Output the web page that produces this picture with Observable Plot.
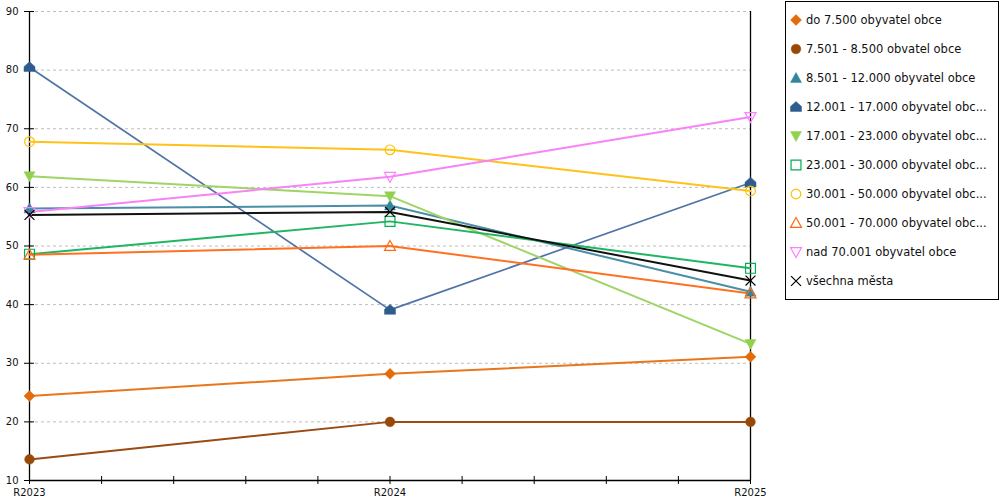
<!DOCTYPE html>
<html>
<head>
<meta charset="utf-8">
<script src="https://cdn.jsdelivr.net/npm/d3@7"></script>
<script src="https://cdn.jsdelivr.net/npm/@observablehq/plot@0.6"></script>
<style>
  body { margin: 0; background: #fff; font-family: "DejaVu Sans", sans-serif; }
  #wrap { position: relative; width: 1000px; height: 500px; overflow: hidden; }
  #legend { position: absolute; left: 785px; top: 1px; width: 214px; height: 299px;
            border: 1px solid #000; box-sizing: border-box; background: #fff; }
  .item { position: absolute; left: 0; height: 20px; display: flex; align-items: center;
          font-size: 11.5px; color: #111; white-space: nowrap; }
  .item svg { width: 20px; height: 20px; margin-left: 0px; margin-right: 0px; }
</style>
</head>
<body>
<div id="wrap"><div id="legend"></div></div>
<script>
// ---- data ----
const years = ["R2023", "R2024", "R2025"];
const seriesNames = [
  "do 7.500 obyvatel obce",
  "7.501 - 8.500 obvatel obce",
  "8.501 - 12.000 obyvatel obce",
  "12.001 - 17.000 obyvatel obc...",
  "17.001 - 23.000 obyvatel obc...",
  "23.001 - 30.000 obyvatel obc...",
  "30.001 - 50.000 obyvatel obc...",
  "50.001 - 70.000 obyvatel obc...",
  "nad 70.001 obyvatel obce",
  "všechna města"
];
const s1 = [24.4, 28.2, 31.1];
const s2 = [13.6, 20.0, 20.0];
const s3 = [56.4, 56.9, 42.2];
const s4 = [80.5, 39.1, 60.8];
const s5 = [61.9, 58.5, 33.3];
const s6 = [48.6, 54.2, 46.2];
const s7 = [67.8, 66.4, 59.4];
const s8 = [48.5, 50.0, 41.9];
const s9 = [55.8, 61.8, 72.0];
const s10 = [55.3, 55.8, 44.1];
const seriesValues = [s1, s2, s3, s4, s5, s6, s7, s8, s9, s10];
const yTicks = [10, 20, 30, 40, 50, 60, 70, 80, 90];

// ---- styles ----
const lineColors = ["#e8761c", "#9a4b12", "#4a8fa6", "#4f73a6", "#9fd466", "#1fb562", "#ffc21a", "#ff7020", "#f882f8", "#111111"];
const markColors = ["#e36c09", "#984807", "#31859c", "#2e5c8f", "#92d050", "#00b050", "#ffc000", "#ff6a10", "#ff80ff", "#000000"];
const filled = [true, true, true, true, true, false, false, false, false, false];

function mk(fn) { return { draw(ctx, size) { fn(ctx, Math.sqrt(size / Math.PI)); } }; }
const symDiamond = mk((c, r) => { c.moveTo(0, -r); c.lineTo(r, 0); c.lineTo(0, r); c.lineTo(-r, 0); c.closePath(); });
const symCircle = mk((c, r) => { const q = r * 0.88; c.moveTo(q, 0); c.arc(0, 0, q, 0, 2 * Math.PI); c.closePath(); });
const symTri = mk((c, r) => { c.moveTo(0, -r); c.lineTo(r, r * 0.8); c.lineTo(-r, r * 0.8); c.closePath(); });
const symTriDown = mk((c, r) => { c.moveTo(0, r); c.lineTo(r, -r * 0.8); c.lineTo(-r, -r * 0.8); c.closePath(); });
const symHouse = mk((c, r) => { c.moveTo(0, -r); c.lineTo(r, -0.1 * r); c.lineTo(r, 0.8 * r); c.lineTo(-r, 0.8 * r); c.lineTo(-r, -0.1 * r); c.closePath(); });
const symSquare = mk((c, r) => { const q = r * 0.9; c.moveTo(-q, -q); c.lineTo(q, -q); c.lineTo(q, q); c.lineTo(-q, q); c.closePath(); });
const symTimes = mk((c, r) => { const q = r * 0.9; c.moveTo(-q, -q); c.lineTo(q, q); c.moveTo(q, -q); c.lineTo(-q, q); });
const symbols = [symDiamond, symCircle, symTri, symHouse, symTriDown, symSquare, symCircle, symTri, symTriDown, symTimes];

const tables = seriesValues.map((vals, k) => vals.map((v, i) => ({ i, v, k })));

const marks = [
  Plot.ruleY(yTicks.slice(1), { stroke: "#bdbdbd", strokeDasharray: "3,3", strokeWidth: 1 }),
  Plot.ruleX([0, 2], { stroke: "#000", strokeWidth: 1.3 }),
  Plot.ruleY([10], { stroke: "#000", strokeWidth: 1.3 }),
  Plot.axisY({ ticks: yTicks, tickSize: 10, dx: 5, fill: "none", stroke: "#000", label: null, tickFormat: () => "" }),
  Plot.axisY({ ticks: yTicks, tickSize: 0, tickPadding: 11, fontSize: 10, fill: "#111", label: null }),
  Plot.axisX({ ticks: d3.range(0, 11).map(k => k / 5), tickSize: 8, dy: -4, fill: "none", stroke: "#000", label: null, tickFormat: () => "" }),
  Plot.axisX({ ticks: [0, 1, 2], tickFormat: i => years[i], tickSize: 0, tickPadding: 8, fontSize: 10, fill: "#111", label: null })
];
tables.forEach((t, k) => {
  marks.push(Plot.line(t, { x: "i", y: "v", stroke: lineColors[k], strokeWidth: k === 3 ? 1.7 : 2 }));
});
tables.forEach((t, k) => {
  marks.push(Plot.dot(t, {
    x: "i", y: "v", symbol: symbols[k], r: 5.5,
    fill: filled[k] ? markColors[k] : "none",
    stroke: markColors[k], strokeWidth: filled[k] ? 0.5 : 1.2
  }));
});

const chart = Plot.plot({
  width: 1000, height: 500,
  marginLeft: 29, marginRight: 250, marginTop: 11, marginBottom: 20,
  x: { type: "linear", domain: [0, 2] },
  y: { type: "linear", domain: [10, 90] },
  style: { fontFamily: "DejaVu Sans, sans-serif", fontSize: "10px", background: "transparent" },
  marks
});
const wrap = document.getElementById("wrap");
wrap.insertBefore(chart, wrap.firstChild);

// ---- legend ----
const legend = d3.select("#legend");
seriesNames.forEach((name, k) => {
  const item = legend.append("div").attr("class", "item")
    .style("top", (8 + k * 29) + "px").style("left", "0px");
  const svg = item.append("svg").attr("viewBox", "-10 -10 20 20").style("margin-left", "0px");
  const p = d3.path();
  symbols[k].draw(p, Math.PI * 5.5 * 5.5);
  svg.append("path").attr("d", p.toString())
    .attr("fill", filled[k] ? markColors[k] : "none")
    .attr("stroke", markColors[k]).attr("stroke-width", filled[k] ? 0.5 : 1.2);
  item.append("span").text(name);
});
</script>
</body>
</html>
